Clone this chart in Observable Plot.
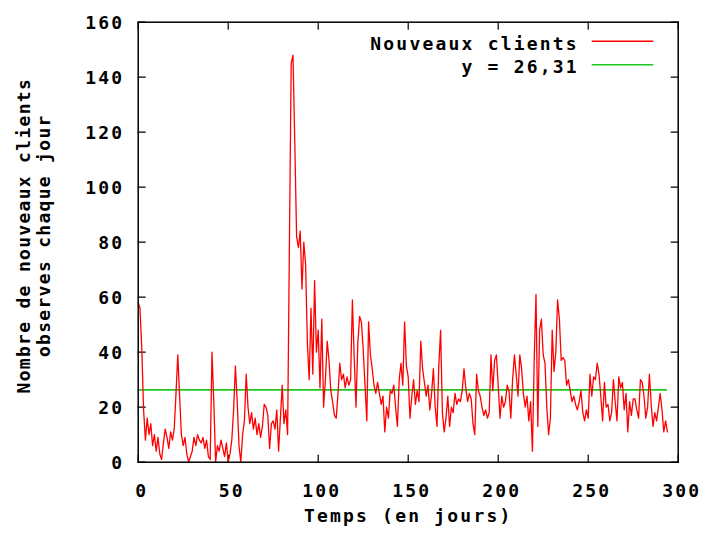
<!DOCTYPE html>
<html>
<head>
<meta charset="utf-8">
<script src="https://cdn.jsdelivr.net/npm/d3@7"></script>
<script src="https://cdn.jsdelivr.net/npm/@observablehq/plot@0.6"></script>
<style>
  html, body { margin: 0; padding: 0; background: #ffffff; }
  #chart { width: 705px; height: 535px; }
</style>
</head>
<body>
<div id="chart"></div>
<script>
// ---- Data ----
const newClients = [
  58, 56, 41, 19, 8, 16, 10, 14, 6, 10,
  4, 9, 3, 1, 7, 12, 9, 5, 11, 8,
  12, 25, 39, 24, 10, 6, 9, 3, 0, 2,
  4, 9, 6, 10, 8, 7, 9, 5, 8, 2,
  1, 40, 22, 0, 6, 4, 8, 5, 2, 7,
  0, 3, 8, 19, 35, 22, 6, 0, 10, 15,
  32, 20, 14, 18, 12, 16, 10, 14, 9, 13,
  21, 20, 17, 5, 14, 15, 12, 19, 4, 16,
  28, 14, 19, 10, 79, 145, 148, 116, 82, 78,
  84, 63, 80, 72, 43, 30, 56, 32, 66, 40,
  48, 27, 52, 20, 30, 44, 37, 26, 22, 17,
  16, 25, 36, 30, 32, 27, 31, 28, 30, 59,
  38, 20, 43, 53, 51, 41, 28, 15, 51, 39,
  34, 28, 25, 29, 25, 21, 24, 11, 20, 16,
  26, 25, 28, 20, 13, 30, 36, 28, 51, 35,
  31, 16, 24, 30, 21, 26, 22, 44, 34, 29,
  24, 28, 19, 25, 34, 20, 13, 35, 48, 18,
  11, 16, 24, 13, 20, 18, 25, 21, 23, 22,
  26, 34, 27, 22, 25, 23, 14, 10, 32, 26,
  24, 20, 17, 19, 16, 18, 39, 26, 37, 39,
  28, 16, 24, 20, 22, 28, 26, 16, 30, 39,
  32, 24, 39, 34, 25, 20, 24, 15, 22, 4,
  37, 61, 13, 48, 52, 39, 36, 20, 10, 16,
  48, 33, 40, 59, 52, 37, 38, 37, 28, 30,
  26, 22, 24, 21, 19, 22, 26, 18, 15, 19,
  16, 32, 24, 31, 30, 36, 32, 24, 15, 29,
  20, 21, 15, 18, 30, 22, 15, 31, 27, 29,
  19, 25, 11, 22, 17, 23, 23, 19, 16, 30,
  29, 24, 16, 20, 32, 21, 13, 18, 15, 20,
  25, 19, 11, 15, 11
];
const days = newClients.map((_, i) => i);
const meanValue = [26.31];
const seriesNames = ["Nouveaux clients", "y = 26,31"];
const seriesColors = ["#ff0000", "#1ec81e"];
const xTicks = [0, 50, 100, 150, 200, 250, 300];
const yTicks = [0, 20, 40, 60, 80, 100, 120, 140, 160];
const xLabel = "Temps (en jours)";
const yLabelLines = ["Nombre de nouveaux clients", "observes chaque jour"];

// ---- Build ----
const rows = days.map((d, i) => ({day: d, value: newClients[i]}));

const tickShape = {draw(ctx, l) { ctx.moveTo(0, 0); ctx.lineTo(0, -l); }};
const TICK = 7;

function legendMark(index, scales, values, dims) {
  const g = d3.create("svg:g");
  const right = dims.width - dims.marginRight;
  const lineEnd = right - 24.4;
  const lineStart = lineEnd - 61.6;
  const textEnd = lineStart - 12.8;
  seriesNames.forEach((name, i) => {
    const lineY = dims.marginTop + 19.6 + i * 23.4;
    g.append("line")
      .attr("x1", lineStart).attr("x2", lineEnd)
      .attr("y1", lineY).attr("y2", lineY)
      .attr("stroke", seriesColors[i])
      .attr("stroke-width", 1.6);
    g.append("text")
      .attr("x", textEnd)
      .attr("y", lineY + 8.4)
      .attr("text-anchor", "end")
      .attr("fill", "#000")
      .text(name);
  });
  return g.node();
}

function yLabelMark(index, scales, values, dims) {
  const g = d3.create("svg:g");
  const cy = dims.marginTop + (dims.height - dims.marginTop - dims.marginBottom) / 2 - 6;
  yLabelLines.forEach((line, i) => {
    const bx = dims.marginLeft - 107.7 + i * 20;
    g.append("text")
      .attr("transform", `translate(${bx},${cy}) rotate(-90)`)
      .attr("text-anchor", "middle")
      .attr("fill", "#000")
      .style("letter-spacing", "1.3px")
      .text(line);
  });
  return g.node();
}

const chart = Plot.plot({
  width: 705,
  height: 535,
  marginLeft: 137.7,
  marginRight: 27.3,
  marginTop: 21.7,
  marginBottom: 73.3,
  style: {
    fontFamily: "'DejaVu Sans Mono', 'Liberation Mono', monospace",
    fontSize: "18px",
    fontWeight: "bold",
    letterSpacing: "2.2px",
    background: "#ffffff",
    color: "#000000"
  },
  x: {domain: [0, 300]},
  y: {domain: [0, 160]},
  marks: [
    Plot.axisX({ticks: xTicks, tickSize: 0, tickPadding: 22, dx: 3.5, label: null, tickFormat: d => String(d)}),
    Plot.axisY({ticks: yTicks, tickSize: 0, tickPadding: 13.8, dy: 1.5, label: null, tickFormat: d => String(d)}),
    Plot.vector(xTicks, {x: d => d, frameAnchor: "bottom", length: TICK, rotate: 0, anchor: "start", shape: tickShape, stroke: "#000", strokeWidth: 1.2}),
    Plot.vector(xTicks, {x: d => d, frameAnchor: "top", length: TICK, rotate: 180, anchor: "start", shape: tickShape, stroke: "#000", strokeWidth: 1.2}),
    Plot.vector(yTicks, {y: d => d, frameAnchor: "left", length: TICK, rotate: 90, anchor: "start", shape: tickShape, stroke: "#000", strokeWidth: 1.2}),
    Plot.vector(yTicks, {y: d => d, frameAnchor: "right", length: TICK, rotate: -90, anchor: "start", shape: tickShape, stroke: "#000", strokeWidth: 1.2}),
    Plot.ruleY(meanValue, {y: d => d, x1: d3.min(days), x2: d3.max(days), stroke: seriesColors[1], strokeWidth: 1.6}),
    Plot.line(rows, {x: "day", y: "value", stroke: seriesColors[0], strokeWidth: 1.3}),
    Plot.frame({stroke: "#000", strokeWidth: 1.5}),
    Plot.text([xLabel], {text: d => d, frameAnchor: "bottom", dy: 59.8, dx: 0, fill: "#000"}),
    yLabelMark,
    legendMark
  ]
});

document.getElementById("chart").appendChild(chart);
</script>
</body>
</html>
